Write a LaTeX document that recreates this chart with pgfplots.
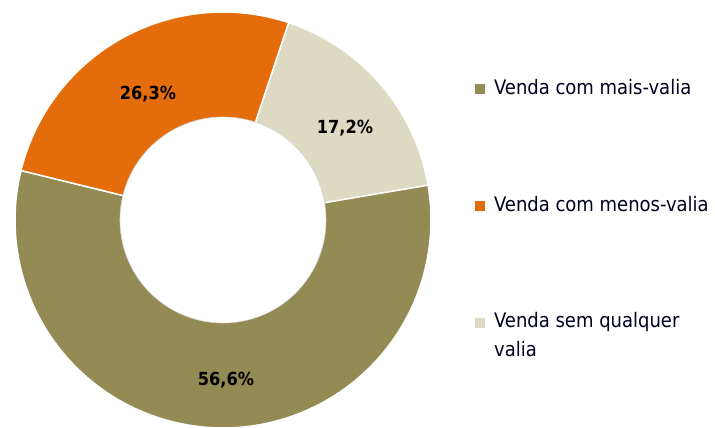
\documentclass[border=0pt]{standalone}
\usepackage{pgfplots}
\pgfplotsset{compat=1.18}
\usepackage{fontspec}
\setmainfont{DejaVu Sans Condensed}
\definecolor{cOlive}{HTML}{948A54}
\definecolor{cOrange}{HTML}{E46C0A}
\definecolor{cBeige}{HTML}{DDD9C3}
\def\vA{56.6}\def\vB{26.3}\def\vC{17.2}
\pgfmathsetmacro\aA{10}
\pgfmathsetmacro\aB{\aA-3.6*\vA}
\pgfmathsetmacro\aC{\aB-3.6*\vB}
\pgfmathsetmacro\aD{\aC-3.6*\vC}
\def\cx{223}\def\cy{208}\def\Ro{208}\def\Ri{103}
\begin{document}
\begin{tikzpicture}
\begin{axis}[
  width=715bp, height=428bp, scale only axis,
  xmin=0, xmax=715, ymin=0, ymax=428,
  hide axis, clip=false,
  legend image code/.code={\fill[#1,draw=none] (0bp,0bp) rectangle (10bp,10bp);},
  legend style={draw=none, fill=none, inner sep=0pt, row sep=100bp, column sep=9bp,
    at={(axis cs:475,349)}, anchor=north west,
    nodes={inner sep=0pt, anchor=base west, font=\fontsize{20bp}{28.5bp}\selectfont, text=black!88!blue}},
]
\addplot[fill=cOlive, draw=white, line width=1.5bp, domain=\aB:\aA, samples=120, variable=\t]
  ({\cx+\Ro*cos(\t)},{\cy+\Ro*sin(\t)}) -- (axis cs:\cx,\cy) -- cycle;
\addlegendentry{Venda com mais-valia}
\addplot[fill=cOrange, draw=white, line width=1.5bp, domain=\aC:\aB, samples=80, variable=\t]
  ({\cx+\Ro*cos(\t)},{\cy+\Ro*sin(\t)}) -- (axis cs:\cx,\cy) -- cycle;
\addlegendentry{Venda com menos-valia}
\addplot[fill=cBeige, draw=white, line width=1.5bp, domain=\aD:\aC, samples=60, variable=\t]
  ({\cx+\Ro*cos(\t)},{\cy+\Ro*sin(\t)}) -- (axis cs:\cx,\cy) -- cycle;
\addlegendentry{\parbox[t]{220bp}{\raggedright Venda sem qualquer\\valia}}
\addplot[fill=white, draw=white!85!black, line width=0.6bp, domain=0:360, samples=120, variable=\t, forget plot]
  ({\cx+\Ri*cos(\t)},{\cy+\Ri*sin(\t)}) -- cycle;
\node[font=\bfseries\fontsize{18bp}{20bp}\selectfont] at (axis cs:226,48) {56,6\%};
\node[font=\bfseries\fontsize{18bp}{20bp}\selectfont] at (axis cs:148,334) {26,3\%};
\node[font=\bfseries\fontsize{18bp}{20bp}\selectfont] at (axis cs:345,300) {17,2\%};
\end{axis}
\pgfresetboundingbox
\path (current axis.south west) rectangle (current axis.north east);
\end{tikzpicture}
\end{document}
